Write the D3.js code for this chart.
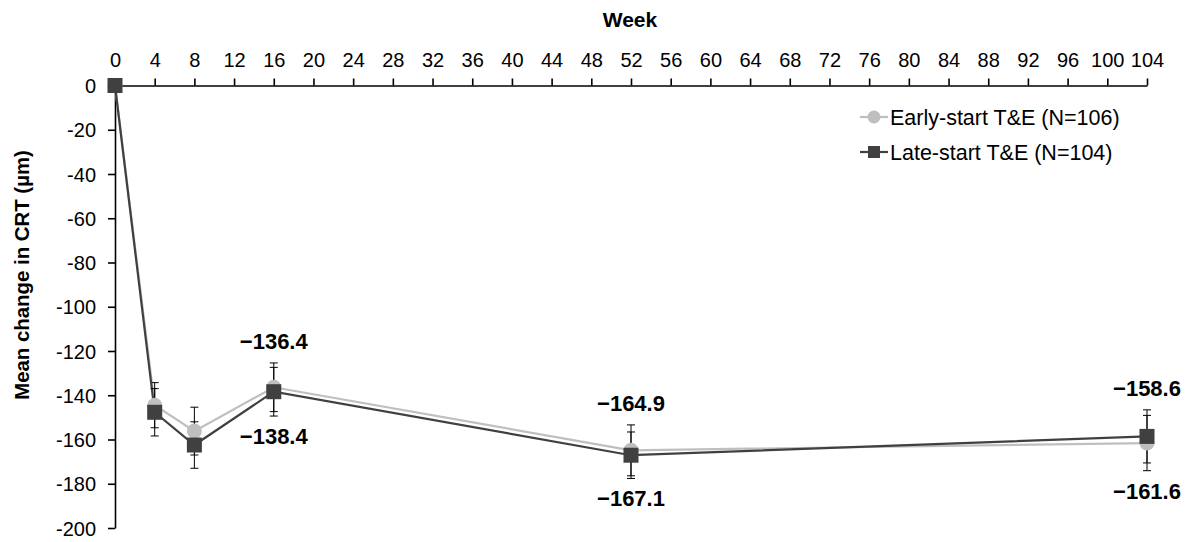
<!DOCTYPE html>
<html>
<head>
<meta charset="utf-8">
<script src="https://cdn.jsdelivr.net/npm/d3@7"></script>
<style>
  body { margin: 0; background: #fff; }
  svg { display: block; font-family: "Liberation Sans", Arial, sans-serif; }
</style>
</head>
<body>
<svg id="chart" width="1191" height="542"></svg>
<script>
// weeks and values
const weeks = [0, 4, 8, 16, 52, 104]
const earlyMean = [0, -144.5, -156.2, -136.4, -164.9, -161.6]
const earlyErr = [0, 10.2, 10.8, 11, 11.5, 12.5]
const lateMean = [0, -147.7, -162.5, -138.4, -167.1, -158.6]
const lateErr = [0, 10.7, 10.5, 11, 10.5, 12]
const xTicks = d3.range(0, 105, 4)
const yTicks = d3.range(0, -201, -20)

// printed annotations: week, text, which side
const labels = [
  { week: 16, text: '\u2212136.4', side: 'above' },
  { week: 16, text: '\u2212138.4', side: 'below' },
  { week: 52, text: '\u2212164.9', side: 'above' },
  { week: 52, text: '\u2212167.1', side: 'below' },
  { week: 104, text: '\u2212158.6', side: 'above' },
  { week: 104, text: '\u2212161.6', side: 'below' }
]

const series = [
  { name: 'Early-start T&E (N=106)', mean: earlyMean, err: earlyErr, colour: '#bfbfbf', shape: 'circle' },
  { name: 'Late-start T&E (N=104)', mean: lateMean, err: lateErr, colour: '#404040', shape: 'square' }
]

const svg = d3.select('#chart')

const x = d3.scaleLinear().domain([0, 104]).range([115, 1147])
const y = d3.scaleLinear().domain([0, -200]).range([85.5, 528])

// axes
const xAxis = svg.append('g')
  .attr('transform', `translate(0,${y(0)})`)
  .call(d3.axisTop(x).tickValues(xTicks).tickSize(7).tickPadding(12).tickSizeOuter(0).tickFormat(d => String(d)))

const yAxis = svg.append('g')
  .attr('transform', `translate(${x(0)},0)`)
  .call(d3.axisLeft(y).tickValues(yTicks).tickSize(7).tickPadding(12).tickSizeOuter(0).tickFormat(d => String(d)))

for (const ax of [xAxis, yAxis]) {
  ax.selectAll('path, line').attr('stroke', '#000').attr('stroke-width', 1.6)
  ax.selectAll('text')
    .attr('font-size', '20px')
    .attr('fill', '#000')
    .attr('font-family', '"Liberation Sans", Arial, sans-serif')
}
xAxis.selectAll('text').attr('dy', '0em')
yAxis.selectAll('text').attr('dy', '0.35em')

svg.append('text')
  .attr('x', 630).attr('y', 27)
  .attr('text-anchor', 'middle')
  .attr('font-size', '21px').attr('font-weight', 'bold')
  .text('Week')

svg.append('text')
  .attr('transform', 'translate(29,275) rotate(-90)')
  .attr('text-anchor', 'middle')
  .attr('font-size', '20.4px').attr('font-weight', 'bold')
  .text('Mean change in CRT (\u00b5m)')

// lines, error bars, markers
const line = d3.line().x(d => x(d.week)).y(d => y(d.mean))

for (const s of series) {

  const pts = weeks.map((w, i) => ({ week: w, mean: s.mean[i], err: s.err[i] }))

  svg.append('path')
    .datum(pts)
    .attr('d', line)
    .attr('fill', 'none')
    .attr('stroke', s.colour)
    .attr('stroke-width', 2.2)

  const bars = svg.append('g')
    .selectAll('g')
    .data(pts.filter(d => d.err > 0))
    .enter().append('g')
    .attr('stroke', '#000')
    .attr('stroke-width', 1)

  bars.append('line')
    .attr('x1', d => x(d.week)).attr('x2', d => x(d.week))
    .attr('y1', d => y(d.mean + d.err)).attr('y2', d => y(d.mean - d.err))
  bars.append('line')
    .attr('x1', d => x(d.week) - 4).attr('x2', d => x(d.week) + 4)
    .attr('y1', d => y(d.mean + d.err)).attr('y2', d => y(d.mean + d.err))
  bars.append('line')
    .attr('x1', d => x(d.week) - 4).attr('x2', d => x(d.week) + 4)
    .attr('y1', d => y(d.mean - d.err)).attr('y2', d => y(d.mean - d.err))

  s.pts = pts
}

for (const s of series) {
  const g = svg.append('g')
  if (s.shape === 'circle') {
    g.selectAll('circle').data(s.pts).enter().append('circle')
      .attr('cx', d => x(d.week)).attr('cy', d => y(d.mean))
      .attr('r', 7.5).attr('fill', s.colour)
  } else {
    g.selectAll('rect').data(s.pts).enter().append('rect')
      .attr('x', d => x(d.week) - 7.5).attr('y', d => y(d.mean) - 7.5)
      .attr('width', 15).attr('height', 15).attr('fill', s.colour)
  }
}

// value labels
for (const l of labels) {
  const i = weeks.indexOf(l.week)
  const tops = series.map(s => s.mean[i] + s.err[i])
  const bots = series.map(s => s.mean[i] - s.err[i])
  const yy = l.side === 'above' ? y(d3.max(tops)) - 14 : y(d3.min(bots)) + 28
  svg.append('text')
    .attr('x', x(l.week)).attr('y', yy)
    .attr('text-anchor', 'middle')
    .attr('font-size', '22px').attr('font-weight', 'bold')
    .text(l.text)
}

// legend
const legend = svg.append('g').attr('transform', 'translate(860,117)')
series.forEach((s, i) => {
  const g = legend.append('g').attr('transform', `translate(0,${i * 35})`)
  g.append('line').attr('x1', 0).attr('x2', 28).attr('stroke', s.colour).attr('stroke-width', 2.2)
  if (s.shape === 'circle') {
    g.append('circle').attr('cx', 14).attr('r', 6.5).attr('fill', s.colour)
  } else {
    g.append('rect').attr('x', 8).attr('y', -6).attr('width', 12).attr('height', 12).attr('fill', s.colour)
  }
  g.append('text').attr('x', 30).attr('y', 7.5)
    .attr('font-size', '21.5px').attr('fill', '#000')
    .text(s.name)
})
</script>
</body>
</html>
